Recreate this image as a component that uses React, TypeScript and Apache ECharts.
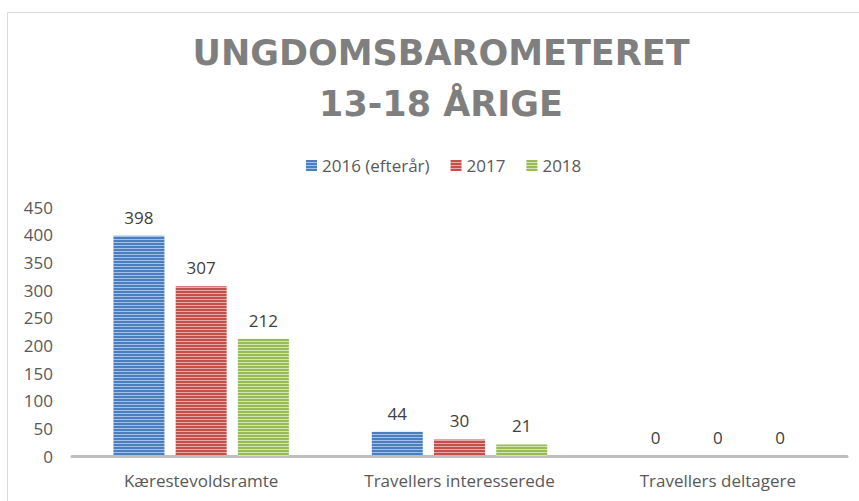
import React, { useEffect, useRef } from "react";
import * as echarts from "echarts";

const categories = ["Kærestevoldsramte", "Travellers interesserede", "Travellers deltagere"];
const seriesNames = ["2016 (efterår)", "2017", "2018"];
const values2016 = [398, 44, 0];
const values2017 = [307, 30, 0];
const values2018 = [212, 21, 0];
const titleText = "UNGDOMSBAROMETERET\n13-18 ÅRIGE";

const baseColors = ["#4a7ebf", "#c4504c", "#98bb55"];
const lightColors = ["#a3c0e6", "#e8a9a7", "#d3e5b2"];

function stripe(base: string, light: string): string {
  const c = document.createElement("canvas");
  c.width = 4;
  c.height = 3;
  const ctx = c.getContext("2d")!;
  ctx.fillStyle = base;
  ctx.fillRect(0, 0, 4, 3);
  ctx.fillStyle = light;
  ctx.fillRect(0, 2, 4, 1);
  return c.toDataURL();
}

export default function App() {
  const ref = useRef<HTMLDivElement>(null);
  useEffect(() => {
    if (!ref.current) return;
    const chart = echarts.init(ref.current, undefined, { renderer: "svg" });
    const font = "'Open Sans', sans-serif";
    const data = [values2016, values2017, values2018];
    const series = data.map((vals, i) => ({
      name: seriesNames[i],
      type: "bar" as const,
      data: vals,
      barWidth: 51,
      barGap: "22%",
      itemStyle: {
        color: {
          image: stripe(baseColors[i], lightColors[i]),
          repeat: "repeat",
          imageWidth: 4,
          imageHeight: 3,
        },
        borderWidth: 0,
      },
      label: {
        show: true,
        position: "top" as const,
        distance: 10,
        color: "#404040",
        fontSize: 17,
        fontFamily: font,
      },
    }));
    chart.setOption({
      animation: false,
      backgroundColor: "#ffffff",
      title: {
        text: titleText,
        left: 436,
        top: 22,
        textAlign: "center",
        textStyle: {
          color: "#7f7f7f",
          fontSize: 35,
          fontWeight: "bold",
          fontFamily: "'DejaVu Sans', sans-serif",
          lineHeight: 51,
        },
      },
      legend: {
        left: 301,
        top: 152,
        itemWidth: 11,
        itemHeight: 11,
        itemGap: 21,
        icon: "rect",
        textStyle: { color: "#595959", fontSize: 17, fontFamily: font },
        data: seriesNames,
      },
      grid: { left: 72, right: 12, top: 207, bottom: 45, containLabel: false },
      xAxis: {
        type: "category",
        data: categories,
        axisLine: { show: true, lineStyle: { color: "#bfbfbf", width: 3 } },
        axisTick: { show: false },
        axisLabel: { color: "#595959", fontSize: 17, fontFamily: font, margin: 16 },
      },
      yAxis: {
        type: "value",
        min: 0,
        max: 450,
        interval: 50,
        axisLine: { show: false },
        axisTick: { show: false },
        splitLine: { show: false },
        axisLabel: { color: "#595959", fontSize: 17, fontFamily: font, margin: 19 },
      },
      graphic: [
        {
          type: "rect",
          shape: { x: 7.5, y: 12.5, width: 900, height: 600 },
          style: { fill: "none", stroke: "#d9d9d9", lineWidth: 1 },
          silent: true,
          z: -1,
        },
      ],
      series,
    });
    return () => chart.dispose();
  }, []);
  return (
    <div
      ref={ref}
      style={{ position: "fixed", left: 0, top: 0, width: 859, height: 501 }}
    />
  );
}
